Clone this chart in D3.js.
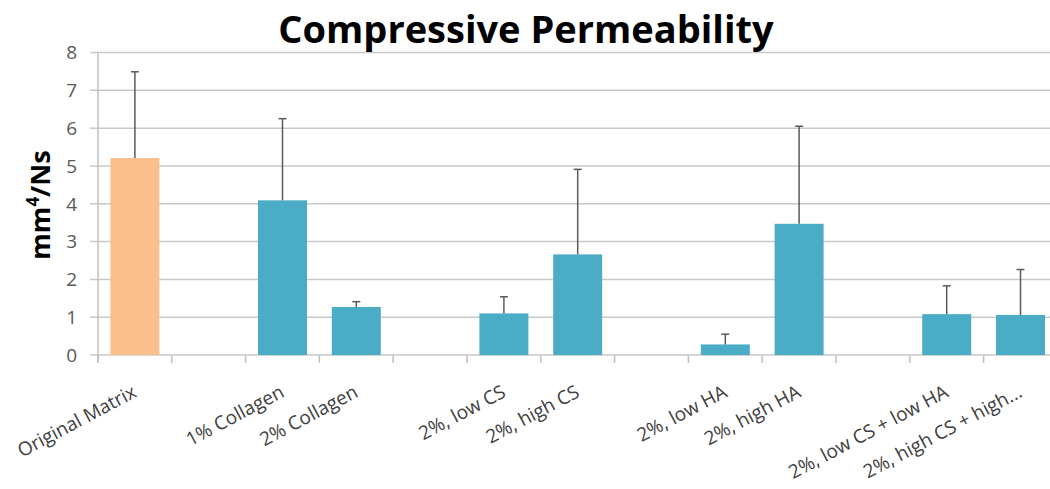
<!DOCTYPE html>
<html><head><meta charset="utf-8">
<script src="https://cdn.jsdelivr.net/npm/d3@7"></script>
<style>body{margin:0;background:#fff}svg{display:block}</style>
</head><body>
<svg id="c" width="1050" height="489"></svg>
<script>
const categories = ["Original Matrix", "", "1% Collagen", "2% Collagen", "", "2%, low CS", "2%, high CS", "", "2%, low HA", "2%, high HA", "", "2%, low CS + low HA", "2%, high CS + high..."];
const values = [5.21, null, 4.09, 1.27, null, 1.10, 2.66, null, 0.28, 3.47, null, 1.08, 1.06];
const errors = [2.28, null, 2.16, 0.14, null, 0.44, 2.25, null, 0.27, 2.58, null, 0.75, 1.20];
const yTicks = [0, 1, 2, 3, 4, 5, 6, 7, 8];
const barColors = ["#F9BF8C", null, "#4BACC6", "#4BACC6", null, "#4BACC6", "#4BACC6", null, "#4BACC6", "#4BACC6", null, "#4BACC6", "#4BACC6"];

const svg = d3.select("#c");
const x0 = 98, bandW = 73.8;
const x = d3.scaleBand().domain(d3.range(categories.length))
  .range([x0, x0 + bandW * categories.length]).paddingInner(0.336).paddingOuter(0.168);
const y = d3.scaleLinear().domain([0, 8]).range([355, 52.5]);
const font = "'Open Sans', sans-serif";

// gridlines
svg.append("g").selectAll("line").data(yTicks).join("line")
  .attr("x1", 90).attr("x2", 1050)
  .attr("y1", d => y(d)).attr("y2", d => y(d))
  .attr("stroke", "#c9c9c9").attr("stroke-width", 1.5);

// y axis line
svg.append("line").attr("x1", x0).attr("x2", x0).attr("y1", y(8)).attr("y2", y(0) + 8)
  .attr("stroke", "#c0c0c0").attr("stroke-width", 1.5);

// x category ticks
const edges = d3.range(categories.length + 1);
svg.append("g").selectAll("line").data(edges).join("line")
  .attr("x1", i => x0 + i * bandW).attr("x2", i => x0 + i * bandW)
  .attr("y1", y(0)).attr("y2", y(0) + 8)
  .attr("stroke", "#c0c0c0").attr("stroke-width", 1.5);

// y tick labels
svg.append("g").selectAll("text").data(yTicks).join("text")
  .attr("x", 77).attr("y", d => y(d)).attr("dy", "0.36em")
  .attr("text-anchor", "end").attr("font-family", font).attr("font-size", 19)
  .attr("fill", "#595959").text(d => d);

const idx = d3.range(categories.length).filter(i => values[i] != null);

// bars
svg.append("g").selectAll("rect").data(idx).join("rect")
  .attr("x", i => x(i)).attr("width", x.bandwidth())
  .attr("y", i => y(values[i])).attr("height", i => y(0) - y(values[i]))
  .attr("fill", i => barColors[i]);

// error bars
const eg = svg.append("g").attr("stroke", "#5a5a5a").attr("stroke-width", 1.5);
idx.forEach(i => {
  const cx = x(i) + x.bandwidth() / 2;
  eg.append("line").attr("x1", cx).attr("x2", cx)
    .attr("y1", y(values[i])).attr("y2", y(values[i] + errors[i]));
  eg.append("line").attr("x1", cx - 4).attr("x2", cx + 4)
    .attr("y1", y(values[i] + errors[i])).attr("y2", y(values[i] + errors[i]));
});

// x labels
svg.append("g").selectAll("text").data(idx).join("text")
  .attr("transform", i => `translate(${x(i) + x.bandwidth() / 2 + 3},${y(0) + 41}) rotate(-28)`)
  .attr("text-anchor", "end").attr("font-family", font).attr("font-size", 19)
  .attr("fill", "#404040").text(i => categories[i]);

// title
svg.append("text").attr("x", 526).attr("y", 43).attr("text-anchor", "middle")
  .attr("font-family", font).attr("font-weight", "bold").attr("font-size", 38)
  .attr("fill", "#000").text("Compressive Permeability");

// y axis title
const yt = svg.append("text").attr("transform", "translate(50,205) rotate(-90)")
  .attr("text-anchor", "middle").attr("font-family", font).attr("font-weight", "bold")
  .attr("font-size", 27).attr("fill", "#000");
yt.append("tspan").text("mm");
yt.append("tspan").attr("font-size", 17).attr("dy", -11).text("4");
yt.append("tspan").attr("dy", 11).text("/Ns");
</script>
</body></html>
